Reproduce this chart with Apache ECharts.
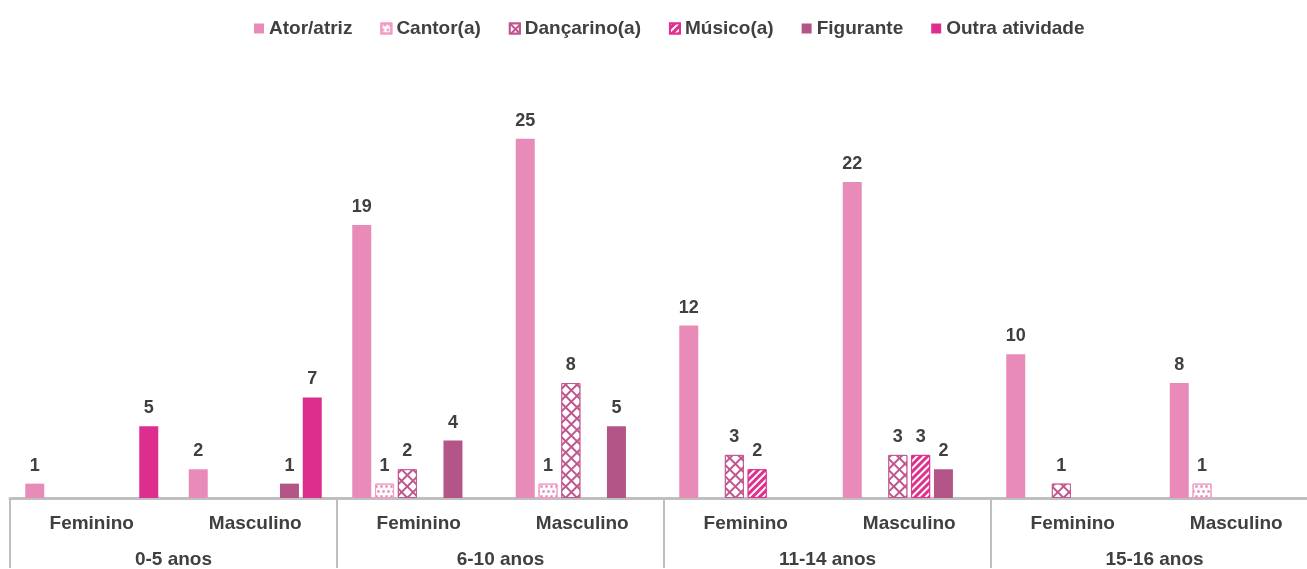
<!DOCTYPE html>
<html>
<head>
<meta charset="utf-8">
<script src="https://cdn.jsdelivr.net/npm/echarts@6/dist/echarts.min.js"></script>
<style>
  html, body { margin: 0; padding: 0; background: #fff; }
  #wrap { width: 1307px; height: 569px; overflow: hidden; position: relative; }
  #main { width: 1318px; height: 569px; position: absolute; left: 0; top: 0; }
</style>
</head>
<body>
<div id="wrap"><div id="main"></div></div>
<script>
// categorias
var sexos = ['Feminino', 'Masculino', 'Feminino', 'Masculino', 'Feminino', 'Masculino', 'Feminino', 'Masculino'];
var faixas = ['0-5 anos', '6-10 anos', '11-14 anos', '15-16 anos'];

// valores por série
var ator      = [1, 2, 19, 25, 12, 22, 10, 8];
var cantor    = [0, 0, 1, 1, 0, 0, 0, 1];
var dancarino = [0, 0, 2, 8, 3, 3, 1, 0];
var musico    = [0, 0, 0, 0, 2, 3, 0, 0];
var figurante = [0, 1, 4, 5, 0, 2, 0, 0];
var outra     = [5, 7, 0, 0, 0, 0, 0, 0];

var font = '"Liberation Sans", Arial, sans-serif';

function semZero(arr) {
  return arr.map(function (v) { return v === 0 ? '-' : v; });
}

function serie(name, data, itemStyle) {
  return {
    name: name,
    type: 'bar',
    xAxisIndex: 0,
    barWidth: 19,
    barGap: '20%',
    data: semZero(data),
    itemStyle: itemStyle,
    label: {
      show: true,
      position: 'top',
      distance: 9,
      color: '#404040',
      fontFamily: font,
      fontWeight: 'bold',
      fontSize: 18
    }
  };
}

// o grafico passa um pouco da borda direita, como no original
var chart = echarts.init(document.getElementById('main'));

var option = {
  backgroundColor: '#fff',
  animation: false,
  legend: {
    top: 14,
    left: 249,
    icon: 'rect',
    itemWidth: 10,
    itemHeight: 10,
    itemGap: 28,
    textStyle: { color: '#404040', fontFamily: font, fontWeight: 'bold', fontSize: 19 },
    data: ['Ator/atriz', 'Cantor(a)', 'Dançarino(a)', 'Músico(a)', 'Figurante', 'Outra atividade']
  },
  grid: { left: 10, right: 0, top: 67, bottom: 67 },
  xAxis: [{
    type: 'category',
    data: sexos,
    position: 'bottom',
    axisLine: { show: true, lineStyle: { color: '#BFBFBF', width: 3 } },
    axisTick: { show: false },
    axisLabel: { interval: 0, margin: 16, color: '#404040', fontFamily: font, fontWeight: 'bold', fontSize: 19 }
  }, {
    type: 'category',
    data: faixas,
    position: 'bottom',
    axisLine: { show: false },
    axisTick: { show: true, inside: false, length: 70, interval: 0, lineStyle: { color: '#BFBFBF', width: 2 } },
    axisLabel: { interval: 0, margin: 52, color: '#404040', fontFamily: font, fontWeight: 'bold', fontSize: 19 }
  }],
  yAxis: {
    type: 'value',
    min: 0,
    max: 30,
    show: false,
    splitLine: { show: false }
  },
  series: [
    serie('Ator/atriz', ator, { color: '#E88BB9' }),
    serie('Cantor(a)', cantor, {
      color: '#ffffff', borderColor: '#F29AC5', borderWidth: 1,
      decal: { symbol: 'rect', symbolSize: 0.8, color: '#EC82B6', dashArrayX: [[3, 2], [0, 2, 3, 0]], dashArrayY: [3, 2], rotation: 0 }
    }),
    serie('Dançarino(a)', dancarino, {
      color: '#ffffff', borderColor: '#C0568F', borderWidth: 1,
      decal: { symbol: 'emptyRect', symbolSize: 1, color: '#C0568F', dashArrayX: [[8, 0]], dashArrayY: [8, 0], rotation: Math.PI / 4 }
    }),
    serie('Músico(a)', musico, {
      color: '#E0308F', borderColor: '#E0308F', borderWidth: 1,
      decal: { symbol: 'rect', symbolSize: 1, color: '#ffffff', dashArrayX: [1, 0], dashArrayY: [2, 3], rotation: -Math.PI / 4 }
    }),
    serie('Figurante', figurante, { color: '#B35587' }),
    serie('Outra atividade', outra, { color: '#DD2E8E' })
  ]
};

chart.setOption(option);
</script>
</body>
</html>
